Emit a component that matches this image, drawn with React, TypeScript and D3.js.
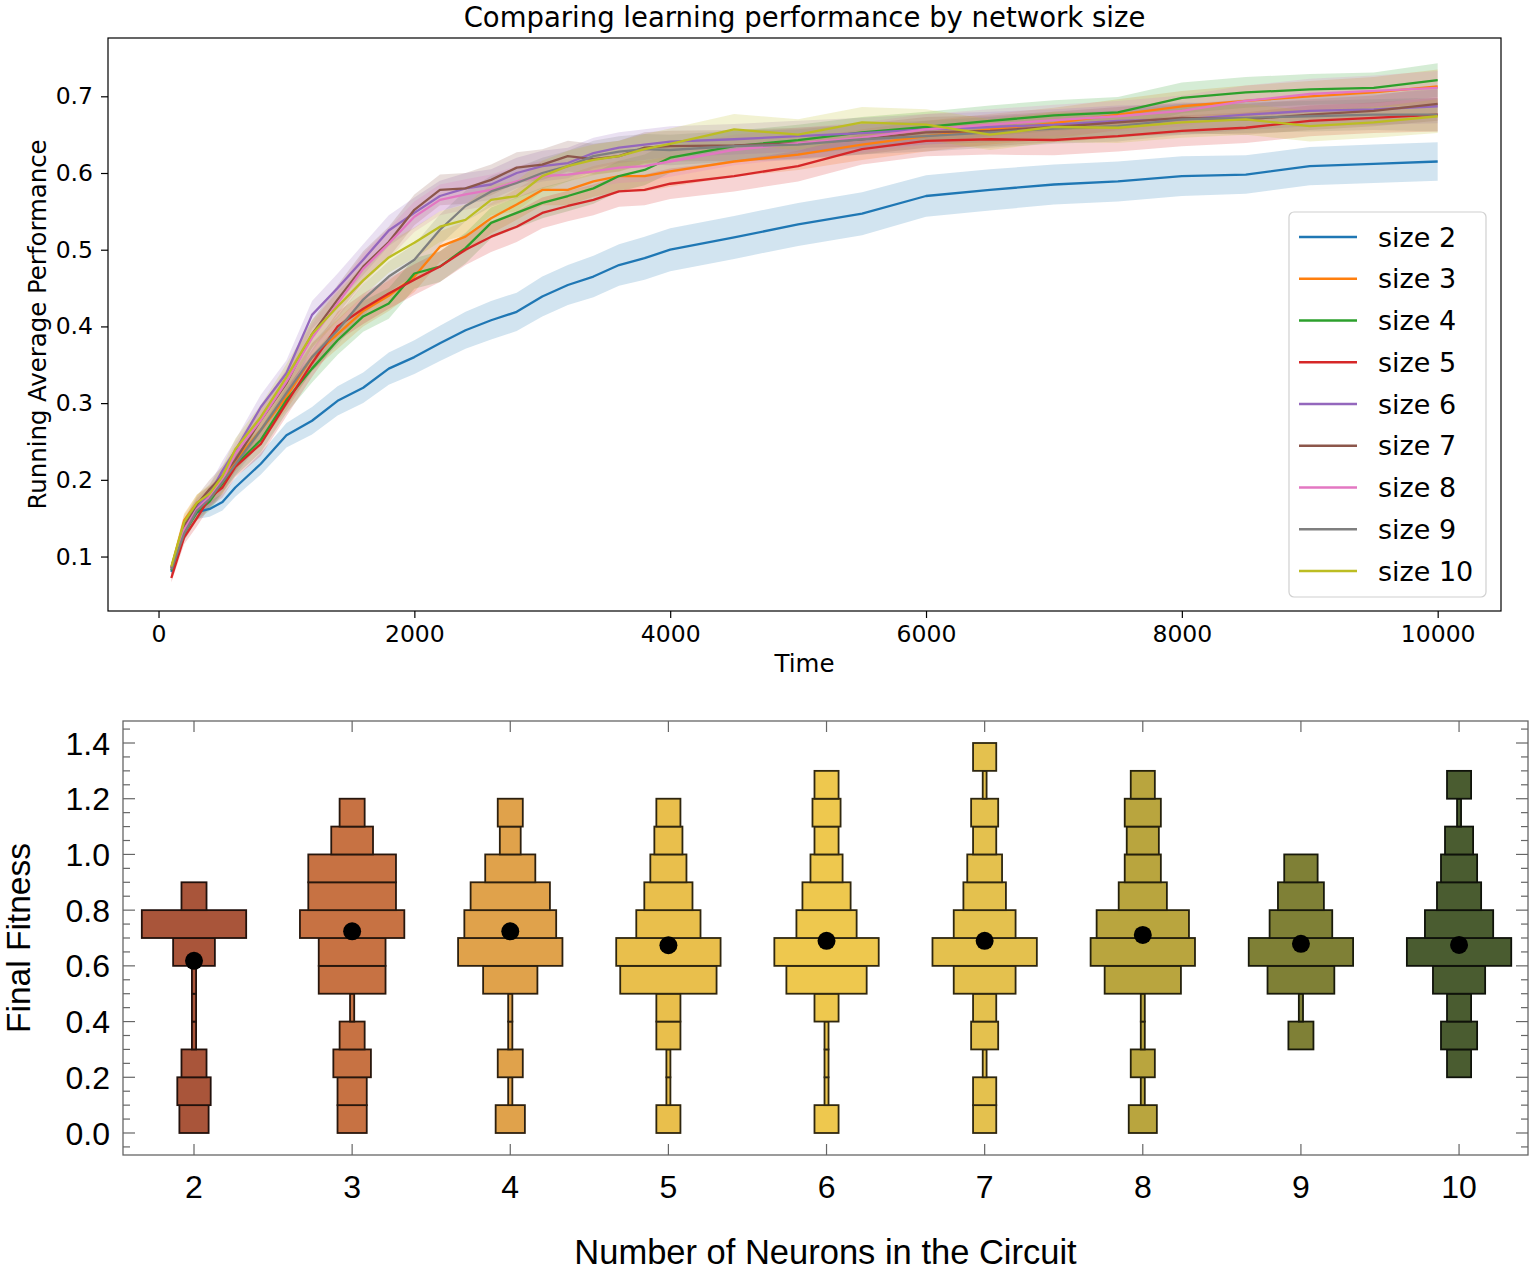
import React, { useEffect, useRef } from 'react';
import * as d3 from 'd3';

// ---------- Top panel data: running average performance ----------
const times = [
  100, 200, 300, 400, 500, 600, 800, 1000, 1200, 1400, 1600, 1800,
  2000, 2200, 2400, 2600, 2800, 3000, 3200, 3400, 3600, 3800, 4000,
  4500, 5000, 5500, 6000, 6500, 7000, 7500, 8000, 8500, 9000, 9500, 10000,
];

const seriesNames = ['size 2', 'size 3', 'size 4', 'size 5', 'size 6', 'size 7', 'size 8', 'size 9', 'size 10'];

const size2 = [0.08, 0.135, 0.158, 0.162, 0.171, 0.19, 0.221, 0.258, 0.277, 0.303, 0.32, 0.345,
  0.36, 0.378, 0.395, 0.408, 0.419, 0.439, 0.454, 0.465, 0.48, 0.489, 0.5,
  0.516, 0.533, 0.547, 0.57, 0.578, 0.585, 0.589, 0.596, 0.598, 0.609, 0.612, 0.615];
const size3 = [0.085, 0.147, 0.17, 0.18, 0.195, 0.225, 0.265, 0.308, 0.36, 0.39, 0.42, 0.44,
  0.465, 0.504, 0.517, 0.541, 0.559, 0.578, 0.578, 0.589, 0.596, 0.596, 0.602,
  0.615, 0.624, 0.637, 0.648, 0.657, 0.665, 0.676, 0.687, 0.694, 0.7, 0.705, 0.713];
const size4 = [0.082, 0.13, 0.158, 0.172, 0.195, 0.219, 0.252, 0.304, 0.345, 0.382, 0.413, 0.43,
  0.469, 0.478, 0.502, 0.535, 0.548, 0.561, 0.57, 0.58, 0.596, 0.604, 0.62,
  0.635, 0.643, 0.653, 0.66, 0.668, 0.675, 0.679, 0.698, 0.705, 0.709, 0.711, 0.721];
const size5 = [0.072, 0.125, 0.15, 0.177, 0.19, 0.217, 0.247, 0.3, 0.352, 0.4, 0.423, 0.443,
  0.461, 0.478, 0.5, 0.517, 0.53, 0.548, 0.557, 0.565, 0.576, 0.578, 0.586,
  0.596, 0.609, 0.631, 0.642, 0.644, 0.643, 0.648, 0.655, 0.659, 0.668, 0.672, 0.676];
const size6 = [0.085, 0.14, 0.165, 0.182, 0.212, 0.238, 0.295, 0.339, 0.415, 0.45, 0.487, 0.525,
  0.548, 0.57, 0.58, 0.585, 0.6, 0.609, 0.613, 0.626, 0.633, 0.637, 0.641,
  0.644, 0.648, 0.652, 0.657, 0.66, 0.663, 0.668, 0.67, 0.676, 0.681, 0.683, 0.687];
const size7 = [0.085, 0.14, 0.168, 0.188, 0.205, 0.226, 0.278, 0.326, 0.39, 0.435, 0.478, 0.51,
  0.552, 0.578, 0.58, 0.591, 0.607, 0.611, 0.622, 0.618, 0.622, 0.633, 0.635,
  0.636, 0.639, 0.644, 0.653, 0.655, 0.66, 0.666, 0.672, 0.67, 0.676, 0.681, 0.69];
const size8 = [0.085, 0.135, 0.162, 0.178, 0.2, 0.234, 0.278, 0.328, 0.385, 0.43, 0.475, 0.508,
  0.543, 0.565, 0.572, 0.578, 0.589, 0.596, 0.598, 0.602, 0.607, 0.609, 0.615,
  0.63, 0.639, 0.646, 0.657, 0.663, 0.669, 0.674, 0.681, 0.694, 0.703, 0.707, 0.711];
const size9 = [0.083, 0.13, 0.16, 0.175, 0.197, 0.22, 0.265, 0.313, 0.36, 0.395, 0.435, 0.465,
  0.487, 0.526, 0.557, 0.576, 0.587, 0.6, 0.609, 0.622, 0.628, 0.631, 0.63,
  0.635, 0.637, 0.644, 0.648, 0.653, 0.658, 0.661, 0.67, 0.672, 0.674, 0.676, 0.676];
const size10 = [0.087, 0.145, 0.17, 0.182, 0.205, 0.24, 0.282, 0.334, 0.39, 0.426, 0.46, 0.49,
  0.509, 0.53, 0.539, 0.565, 0.57, 0.596, 0.609, 0.617, 0.622, 0.631, 0.638,
  0.657, 0.65, 0.666, 0.663, 0.65, 0.66, 0.659, 0.666, 0.67, 0.661, 0.666, 0.674];

const seriesValues = [size2, size3, size4, size5, size6, size7, size8, size9, size10];

// half-width of the shaded error band at each time
const bandSize2 = [0.006, 0.008, 0.009, 0.01, 0.011, 0.012, 0.014, 0.016, 0.018, 0.019, 0.02, 0.021,
  0.022, 0.023, 0.024, 0.025, 0.025, 0.026, 0.026, 0.027, 0.027, 0.028, 0.028,
  0.028, 0.028, 0.028, 0.027, 0.027, 0.026, 0.026, 0.026, 0.025, 0.025, 0.025, 0.025];
const bandOthers = [0.006, 0.009, 0.011, 0.012, 0.013, 0.014, 0.016, 0.017, 0.018, 0.019, 0.02, 0.02,
  0.02, 0.02, 0.02, 0.02, 0.02, 0.02, 0.02, 0.02, 0.02, 0.02, 0.02,
  0.02, 0.02, 0.02, 0.02, 0.02, 0.02, 0.02, 0.02, 0.02, 0.02, 0.02, 0.022];

const xTicksTop = [0, 2000, 4000, 6000, 8000, 10000];
const yTicksTop = [0.1, 0.2, 0.3, 0.4, 0.5, 0.6, 0.7];

// ---------- Bottom panel data: final fitness histograms ----------
const neuronCounts = [2, 3, 4, 5, 6, 7, 8, 9, 10];
const binWidth = 0.1;
const binStarts = [0, 0, 0, 0, 0, 0, 0, 0.3, 0.2];
const binCounts = [
  [7, 8, 6, 1, 1, 1, 10, 25, 6],
  [7, 7, 9, 6, 1, 16, 16, 25, 21, 21, 10, 6],
  [7, 1, 6, 1, 1, 13, 25, 22, 19, 12, 5, 6],
  [6, 1, 1, 6, 6, 24, 26, 16, 12, 9, 7, 6],
  [6, 1, 1, 1, 6, 20, 26, 15, 12, 8, 6, 7, 6],
  [6, 6, 1, 7, 6, 16, 27, 16, 11, 9, 6, 7, 1, 6],
  [7, 1, 6, 1, 1, 19, 26, 23, 12, 9, 8, 9, 6],
  [6, 1, 16, 25, 15, 11, 8],
  [6, 9, 6, 13, 26, 17, 11, 9, 7, 1, 6],
];
const fitnessMeans = [0.618, 0.724, 0.724, 0.674, 0.69, 0.69, 0.711, 0.679, 0.675];
const histColors = ['#a9553a', '#c77243', '#e0a24b', '#e9bf4c', '#eec84e', '#e4c14e', '#b9a53e', '#7f8036', '#4a5c30'];
const yTicksBottom = [0, 0.2, 0.4, 0.6, 0.8, 1.0, 1.2, 1.4];

const W = 1535;
const H = 1270;

type Sel = d3.Selection<SVGGElement, unknown, null, undefined>;

function drawLearning(g: Sel) {
  const box = { left: 108, right: 1501, top: 38, bottom: 611 };
  const x = d3.scaleLinear().domain([-395, 10495]).range([box.left, box.right]);
  const y = d3.scaleLinear().domain([0.029, 0.776]).range([box.bottom, box.top]);
  const colors = d3.schemeCategory10;
  const font = "'DejaVu Sans', sans-serif";

  // bands go underneath all the lines (matplotlib zorder)
  seriesValues.forEach((vals, i) => {
    const band = i === 0 ? bandSize2 : bandOthers;
    const area = d3.area<number>()
      .x((_, j) => x(times[j]))
      .y0((v, j) => y(v - band[j]))
      .y1((v, j) => y(v + band[j]));
    g.append('path').attr('d', area(vals) as string)
      .attr('fill', colors[i]).attr('fill-opacity', 0.2);
  });

  seriesValues.forEach((vals, i) => {
    const line = d3.line<number>().x((_, j) => x(times[j])).y(v => y(v));
    g.append('path').attr('d', line(vals) as string)
      .attr('fill', 'none').attr('stroke', colors[i])
      .attr('stroke-width', 2.3).attr('stroke-linejoin', 'round');
  });

  // frame
  g.append('rect')
    .attr('x', box.left).attr('y', box.top)
    .attr('width', box.right - box.left).attr('height', box.bottom - box.top)
    .attr('fill', 'none').attr('stroke', '#000').attr('stroke-width', 1.2);

  const xAxis = g.append('g').attr('transform', `translate(0,${box.bottom})`)
    .call(d3.axisBottom(x).tickValues(xTicksTop).tickSize(7).tickPadding(7).tickFormat(d3.format('d')));
  const yAxis = g.append('g').attr('transform', `translate(${box.left},0)`)
    .call(d3.axisLeft(y).tickValues(yTicksTop).tickSize(7).tickPadding(8).tickFormat(d3.format('.1f')));
  [xAxis, yAxis].forEach(a => {
    a.select('.domain').remove();
    a.selectAll('line').attr('stroke', '#000').attr('stroke-width', 1.2);
    a.selectAll('text').attr('font-family', font).attr('font-size', 23.5).attr('fill', '#000');
  });

  g.append('text').attr('x', (box.left + box.right) / 2).attr('y', 27)
    .attr('text-anchor', 'middle').attr('font-family', font).attr('font-size', 27.5)
    .text('Comparing learning performance by network size');
  g.append('text').attr('x', (box.left + box.right) / 2).attr('y', 672)
    .attr('text-anchor', 'middle').attr('font-family', font).attr('font-size', 24.5)
    .text('Time');
  g.append('text')
    .attr('transform', `translate(46,${(box.top + box.bottom) / 2}) rotate(-90)`)
    .attr('text-anchor', 'middle').attr('font-family', font).attr('font-size', 24.4)
    .text('Running Average Performance');

  // legend
  const lg = g.append('g');
  lg.append('rect').attr('x', 1289).attr('y', 212).attr('width', 197).attr('height', 385)
    .attr('rx', 5).attr('fill', '#fff').attr('fill-opacity', 0.8)
    .attr('stroke', '#d0d0d0').attr('stroke-width', 1.2);
  seriesNames.forEach((name, i) => {
    const yy = 237 + i * 41.75;
    lg.append('line').attr('x1', 1299).attr('x2', 1357).attr('y1', yy).attr('y2', yy)
      .attr('stroke', colors[i]).attr('stroke-width', 2.3);
    lg.append('text').attr('x', 1378).attr('y', yy).attr('dy', '0.36em')
      .attr('font-family', font).attr('font-size', 27).text(name);
  });
}

function drawFitness(g: Sel) {
  const box = { left: 123, right: 1528, top: 721, bottom: 1155 };
  const x = d3.scaleLinear().domain([1.551, 10.436]).range([box.left, box.right]);
  const y = d3.scaleLinear().domain([-0.079, 1.479]).range([box.bottom, box.top]);
  const font = "'Liberation Sans', Arial, sans-serif";
  const maxWidth = 0.66; // widest bin, in x units

  neuronCounts.forEach((n, k) => {
    const counts = binCounts[k];
    const top = d3.max(counts) as number;
    const fill = histColors[k];
    const edge = d3.interpolateRgb(fill, '#000')(0.8);
    const hg = g.append('g');
    counts.forEach((c, i) => {
      const half = (c / top) * maxWidth / 2;
      const lo = binStarts[k] + i * binWidth;
      hg.append('rect')
        .attr('x', x(n - half)).attr('width', x(n + half) - x(n - half))
        .attr('y', y(lo + binWidth)).attr('height', y(lo) - y(lo + binWidth))
        .attr('fill', fill).attr('stroke', edge).attr('stroke-width', 1.8);
    });
    hg.append('circle').attr('cx', x(n)).attr('cy', y(fitnessMeans[k])).attr('r', 9).attr('fill', '#000');
  });

  // frame
  g.append('rect')
    .attr('x', box.left).attr('y', box.top)
    .attr('width', box.right - box.left).attr('height', box.bottom - box.top)
    .attr('fill', 'none').attr('stroke', '#666').attr('stroke-width', 1.3);

  // inward ticks on all four sides
  const tk = g.append('g').attr('stroke', '#666').attr('stroke-width', 1.2);
  const minor = d3.range(-1, 30).map(i => i * 0.05).filter(v => v > -0.079 && v < 1.479);
  minor.forEach(v => {
    const major = Math.abs(Math.round(v * 5) - v * 5) < 1e-6;
    const len = major ? 12 : 7;
    tk.append('line').attr('x1', box.left).attr('x2', box.left + len).attr('y1', y(v)).attr('y2', y(v));
    tk.append('line').attr('x1', box.right).attr('x2', box.right - len).attr('y1', y(v)).attr('y2', y(v));
  });
  neuronCounts.forEach(n => {
    tk.append('line').attr('x1', x(n)).attr('x2', x(n)).attr('y1', box.bottom).attr('y2', box.bottom - 11);
    tk.append('line').attr('x1', x(n)).attr('x2', x(n)).attr('y1', box.top).attr('y2', box.top + 11);
  });

  yTicksBottom.forEach(v => {
    g.append('text').attr('x', 110).attr('y', y(v)).attr('dy', '0.36em')
      .attr('text-anchor', 'end').attr('font-family', font).attr('font-size', 32)
      .text(d3.format('.1f')(v));
  });
  neuronCounts.forEach(n => {
    g.append('text').attr('x', x(n)).attr('y', 1186).attr('dy', '0.36em')
      .attr('text-anchor', 'middle').attr('font-family', font).attr('font-size', 32)
      .text(String(n));
  });

  g.append('text').attr('x', (box.left + box.right) / 2).attr('y', 1264)
    .attr('text-anchor', 'middle').attr('font-family', font).attr('font-size', 34.5)
    .text('Number of Neurons in the Circuit');
  g.append('text')
    .attr('transform', `translate(30,938) rotate(-90)`)
    .attr('text-anchor', 'middle').attr('font-family', font).attr('font-size', 33.5)
    .text('Final Fitness');
}

const App: React.FC = () => {
  const svgRef = useRef<SVGSVGElement | null>(null);

  useEffect(() => {
    if (!svgRef.current) return;
    const svg = d3.select(svgRef.current);
    svg.selectAll('*').remove();
    drawLearning(svg.append('g'));
    drawFitness(svg.append('g'));
  }, []);

  return (
    <div style={{ position: 'absolute', left: 0, top: 0 }}>
      <svg ref={svgRef} width={W} height={H} style={{ display: 'block', background: '#fff' }} />
    </div>
  );
};

export default App;
